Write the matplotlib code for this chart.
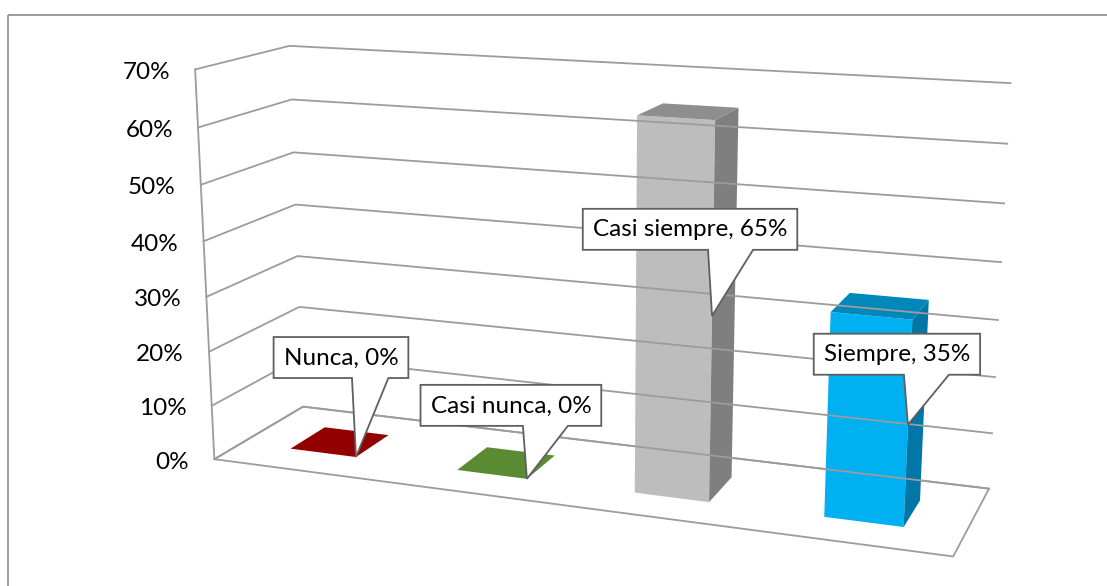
import numpy as np
import matplotlib.pyplot as plt
from matplotlib.patches import Polygon, Rectangle

# data
categories = ['Nunca', 'Casi nunca', 'Casi siempre', 'Siempre']
values = [0.0, 0.0, 0.65, 0.35]
ticks = [0.0, 0.1, 0.2, 0.3, 0.4, 0.5, 0.6, 0.7]
tick_labels = ['0%', '10%', '20%', '30%', '40%', '50%', '60%', '70%']

# styles
front_colors = ['#920000', '#5a8a32', '#bdbdbd', '#00b0f0']
side_colors = ['#6e0000', '#44692a', '#7f7f7f', '#0077a6']
top_colors = ['#920000', '#5a8a32', '#8e8e8e', '#0088ba']
grid_color = '#9c9c9c'
font = 'Lato'
fsize = 17.5

# callout offsets from the anchor point (pixels)
label_dx = [-15, -16, -22, -11]
label_dy = [79, 53, 66, 50]

# camera: frame corners of the 3d box -> pixel position (fit once)
n = len(categories)
zmax = ticks[-1]
frame_world = [(0, 0, 0), (0, 1, 0), (n, 1, 0), (n, 0, 0),
               (0, 0, zmax), (0, 1, zmax), (n, 1, zmax),
               (n, 1, 0.6), (0, 0, 0.3), (0, 1, 0.3)]
frame_pix = [(214, 460), (303, 407), (989, 488), (953, 557),
             (195, 70), (289, 46), (1011, 83),
             (1007, 144), (207, 295), (298, 256)]


def fit_camera(world, pix):
    rows = []
    for (X, Y, Z), (u, v) in zip(world, pix):
        Z = Z * 5
        u, v = u / 1000.0, v / 1000.0
        rows.append([X, Y, Z, 1, 0, 0, 0, 0, -u * X, -u * Y, -u * Z, -u])
        rows.append([0, 0, 0, 0, X, Y, Z, 1, -v * X, -v * Y, -v * Z, -v])
    _, _, vt = np.linalg.svd(np.array(rows, dtype=float))
    return vt[-1].reshape(3, 4)


P = fit_camera(frame_world, frame_pix)


def proj(X, Y, Z):
    h = P @ np.array([X, Y, Z * 5, 1.0])
    return 1000.0 * h[0] / h[2], 1000.0 * h[1] / h[2]


fig = plt.figure(figsize=(11.07, 5.86), dpi=100)
ax = fig.add_axes([0, 0, 1, 1])
ax.set_xlim(0, 1107)
ax.set_ylim(586, 0)
ax.axis('off')

# chart border (cut off at right and bottom)
ax.add_patch(Rectangle((8, 15), 1200, 700, fill=False, ec='#8a8a8a', lw=1.2))

# walls gridlines
for z, lab in zip(ticks, tick_labels):
    pts = [proj(0, 0, z), proj(0, 1, z), proj(n, 1, z)]
    ax.plot([p[0] for p in pts], [p[1] for p in pts], color=grid_color, lw=1.3)
    u, v = proj(0, 0, z)
    ax.text(u - 25, v + 3, lab, ha='right', va='center', fontsize=fsize, family=font)

u0, v0 = proj(0, 0, 0)
u1, v1 = proj(0, 0, zmax)
ax.plot([u0, u1], [v0, v1], color=grid_color, lw=1.3)

# floor
floor = [proj(0, 0, 0), proj(n, 0, 0), proj(n, 1, 0), proj(0, 1, 0)]
ax.add_patch(Polygon(floor, closed=True, fill=False, ec=grid_color, lw=1.3))

# bars
gap = 0.3
renderer = fig.canvas.get_renderer()
for i, (cat, val) in enumerate(zip(categories, values)):
    x0, x1 = i + gap, i + 1 - gap
    y0, y1 = gap, 1 - gap
    if val > 0:
        front = [proj(x0, y0, 0), proj(x1, y0, 0), proj(x1, y0, val), proj(x0, y0, val)]
        side = [proj(x1, y0, 0), proj(x1, y1, 0), proj(x1, y1, val), proj(x1, y0, val)]
        ax.add_patch(Polygon(front, closed=True, fc=front_colors[i], ec='none'))
        ax.add_patch(Polygon(side, closed=True, fc=side_colors[i], ec='none'))
    top = [proj(x0, y0, val), proj(x1, y0, val), proj(x1, y1, val), proj(x0, y1, val)]
    ax.add_patch(Polygon(top, closed=True, fc=top_colors[i], ec='none'))

    # callout
    tu, tv = proj(x1, y0, val / 2)
    txt = ax.text(tu + label_dx[i], tv - label_dy[i] - 20, f'{cat}, {val:.0%}',
                  ha='center', va='center', fontsize=fsize, family=font, zorder=6)
    bb = txt.get_window_extent(renderer).transformed(ax.transData.inverted())
    L, R = bb.x0 - 10, bb.x1 + 10
    B = tv - label_dy[i]
    T = B - 41
    wl = tu - 4
    wr = min(wl + 45, R - 20)
    shape = [(L, T), (R, T), (R, B), (wr, B), (tu, tv), (wl, B), (L, B)]
    ax.add_patch(Polygon(shape, closed=True, fc='white', ec='#5f5f5f', lw=1.3, zorder=5))

fig.savefig('out.png', dpi=100)
